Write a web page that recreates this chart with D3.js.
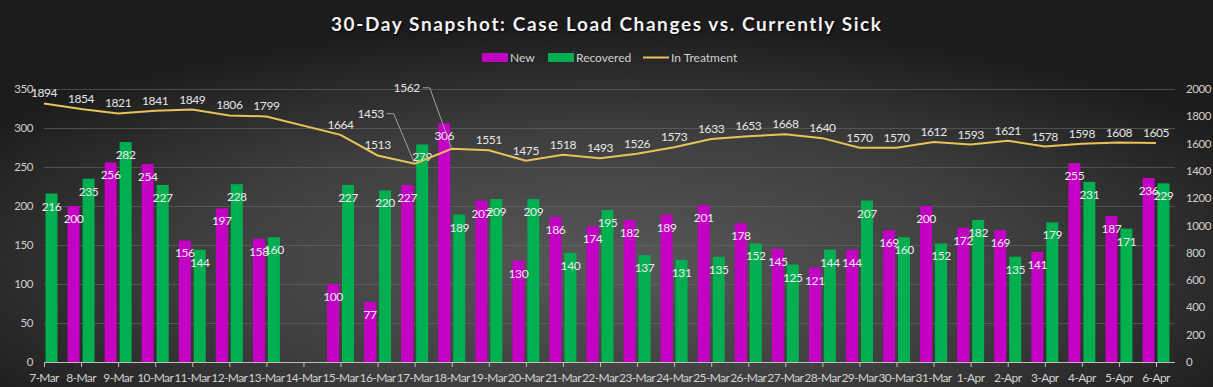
<!DOCTYPE html>
<html>
<head>
<meta charset="utf-8">
<script src="https://cdn.jsdelivr.net/npm/d3@7"></script>
<style>
  html, body { margin: 0; padding: 0; background: #2a2a2a; }
  svg { display: block; font-family: Lato, "Open Sans", sans-serif; }
</style>
</head>
<body>
<svg width="1213" height="387"></svg>
<script>
// данные графика
const dates = ["7-Mar","8-Mar","9-Mar","10-Mar","11-Mar","12-Mar","13-Mar","14-Mar","15-Mar","16-Mar",
  "17-Mar","18-Mar","19-Mar","20-Mar","21-Mar","22-Mar","23-Mar","24-Mar","25-Mar","26-Mar",
  "27-Mar","28-Mar","29-Mar","30-Mar","31-Mar","1-Apr","2-Apr","3-Apr","4-Apr","5-Apr","6-Apr"];
const newCases = [null,200,256,254,156,197,158,null,100,77,
  227,306,207,130,186,174,182,189,201,178,
  145,121,144,169,200,172,169,141,255,187,236];
const recovered = [216,235,282,227,144,228,160,null,227,220,
  279,189,209,209,140,195,137,131,135,152,
  125,144,207,160,152,182,135,179,231,171,229];
const inTreatment = [1894,1854,1821,1841,1849,1806,1799,null,1664,1513,
  1453,1562,1551,1475,1518,1493,1526,1573,1633,1653,
  1668,1640,1570,1570,1612,1593,1621,1578,1598,1608,1605];
const leftTicks = [0,50,100,150,200,250,300,350];
const rightTicks = [0,200,400,600,800,1000,1200,1400,1600,1800,2000];

const colNew = "#c400c4", colRec = "#00b050", colLine = "#e9c25a";
const fs = 11.5, ls = -0.4;

const svg = d3.select("svg");
const attr_area = { width: 1213, height: 387, left: 44, right: 1175, top: 89, bottom: 362 };

// фон - радиальный градиент
const defs = svg.append("defs");
const grad = defs.append("radialGradient").attr("id", "bg")
  .attr("cx", 0.5).attr("cy", 0.68).attr("r", 0.62);
grad.append("stop").attr("offset", "0%").attr("stop-color", "#585858");
grad.append("stop").attr("offset", "55%").attr("stop-color", "#3e3e3e");
grad.append("stop").attr("offset", "100%").attr("stop-color", "#1c1c1c");
svg.append("rect").attr("width", attr_area.width).attr("height", attr_area.height).attr("fill", "url(#bg)");

defs.append("clipPath").attr("id", "plot").append("rect")
  .attr("x", attr_area.left).attr("y", 0)
  .attr("width", attr_area.right - attr_area.left).attr("height", attr_area.bottom);

// шкалы
const scX = d3.scaleLinear().domain([0, dates.length - 1]).range([attr_area.left, 1156]);
const scY = d3.scaleLinear().domain([0, 350]).range([attr_area.bottom, attr_area.top]);
const scY2 = d3.scaleLinear().domain([0, 2000]).range([attr_area.bottom, attr_area.top]);

// сетка
svg.append("g").selectAll("line").data(leftTicks.slice(1)).join("line")
  .attr("x1", attr_area.left).attr("x2", attr_area.right)
  .attr("y1", d => scY(d) + 0.5).attr("y2", d => scY(d) + 0.5)
  .attr("stroke", "#6a6a6a").attr("stroke-width", 1).attr("opacity", 0.6);

// левая ось
svg.append("g").selectAll("text").data(leftTicks).join("text")
  .attr("x", 33).attr("y", d => scY(d) + 4)
  .attr("text-anchor", "end").attr("font-size", fs).attr("letter-spacing", ls).attr("fill", "#cfcfcf")
  .text(d => d);

// правая ось
svg.append("g").selectAll("text").data(rightTicks).join("text")
  .attr("x", 1186).attr("y", d => scY2(d) + 4)
  .attr("text-anchor", "start").attr("font-size", fs).attr("letter-spacing", ls).attr("fill", "#cfcfcf")
  .text(d => d);

// столбцы
const barW = 12, gap = 1.5;
const bars = svg.append("g").attr("clip-path", "url(#plot)");
const series = [
  { vals: newCases, color: colNew, off: -gap - barW },
  { vals: recovered, color: colRec, off: gap }
];
series.forEach(s => {
  const data = s.vals.map((v, i) => ({ i, v })).filter(d => d.v != null);
  bars.selectAll(null).data(data).join("rect")
    .attr("x", d => scX(d.i) + s.off)
    .attr("y", d => scY(d.v))
    .attr("width", barW)
    .attr("height", d => scY(0) - scY(d.v))
    .attr("fill", s.color);
});
series.forEach(s => {
  const data = s.vals.map((v, i) => ({ i, v })).filter(d => d.v != null);
  svg.append("g").selectAll("text").data(data).join("text")
    .attr("x", d => scX(d.i) + s.off + barW / 2)
    .attr("y", d => scY(d.v) + 17)
    .attr("text-anchor", "middle").attr("font-size", fs + 0.5).attr("letter-spacing", ls).attr("fill", "#ececec")
    .text(d => d.v);
});

// ось X
const axis = svg.append("g");
axis.append("line").attr("x1", attr_area.left).attr("x2", attr_area.right)
  .attr("y1", attr_area.bottom + 0.5).attr("y2", attr_area.bottom + 0.5)
  .attr("stroke", "#bdbdbd");
axis.selectAll("line.tick").data(dates).join("line").attr("class", "tick")
  .attr("x1", (d, i) => scX(i) + 0.5).attr("x2", (d, i) => scX(i) + 0.5)
  .attr("y1", attr_area.bottom).attr("y2", attr_area.bottom + 5)
  .attr("stroke", "#bdbdbd");
axis.selectAll("text").data(dates).join("text")
  .attr("x", (d, i) => scX(i)).attr("y", 382)
  .attr("text-anchor", "middle").attr("font-size", fs + 0.5).attr("letter-spacing", -0.6).attr("fill", "#d2d2d2")
  .text(d => d);

// линия "In Treatment"
const linePts = inTreatment.map((v, i) => ({ i, v })).filter(d => d.v != null);
svg.append("path").datum(linePts)
  .attr("d", d3.line().x(d => scX(d.i)).y(d => scY2(d.v)))
  .attr("fill", "none").attr("stroke", colLine).attr("stroke-width", 2);

// подписи линии (две с выносками)
const callouts = { 10: [-44, -50], 11: [-45, -61] };
const lineLabels = svg.append("g").attr("font-size", fs + 0.5).attr("letter-spacing", ls).attr("fill", "#e6e6e6");
linePts.forEach(d => {
  const px = scX(d.i), py = scY2(d.v);
  if (callouts[d.i]) {
    const [dx, dy] = callouts[d.i];
    lineLabels.append("path")
      .attr("d", `M${px + dx + 16},${py + dy} L${px + dx + 23},${py + dy} L${px},${py}`)
      .attr("fill", "none").attr("stroke", "#a0a0a0").attr("stroke-width", 1);
    lineLabels.append("text").attr("x", px + dx).attr("y", py + dy + 4)
      .attr("text-anchor", "middle").text(d.v);
  } else {
    lineLabels.append("text").attr("x", px).attr("y", py - 6)
      .attr("text-anchor", "middle").text(d.v);
  }
});

// заголовок
svg.append("text").attr("x", 606).attr("y", 31)
  .attr("text-anchor", "middle").attr("font-size", 19).attr("font-weight", "bold")
  .attr("fill", "#f2f2f2").attr("textLength", 550).attr("lengthAdjust", "spacing")
  .style("text-shadow", "1px 1px 2px #000")
  .text("30-Day Snapshot: Case Load Changes vs. Currently Sick");

// легенда
const legend = svg.append("g").attr("font-size", 12).attr("fill", "#d0d0d0");
const legItems = [
  { name: "New", x: 482, type: "rect", color: colNew },
  { name: "Recovered", x: 548, type: "rect", color: colRec },
  { name: "In Treatment", x: 643, type: "line", color: colLine }
];
legItems.forEach(it => {
  if (it.type == "rect") {
    legend.append("rect").attr("x", it.x).attr("y", 53).attr("width", 26).attr("height", 9).attr("fill", it.color);
  } else {
    legend.append("line").attr("x1", it.x).attr("x2", it.x + 26).attr("y1", 57.5).attr("y2", 57.5)
      .attr("stroke", it.color).attr("stroke-width", 2);
  }
  legend.append("text").attr("x", it.x + 28).attr("y", 61.5).text(it.name);
});
</script>
</body>
</html>
